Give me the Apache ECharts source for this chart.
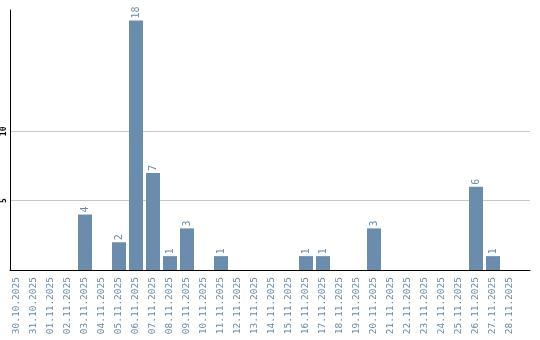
<!DOCTYPE html>
<html>
<head>
<meta charset="utf-8">
<script src="https://cdn.jsdelivr.net/npm/echarts@6/dist/echarts.min.js"></script>
<style>html,body{margin:0;padding:0;background:#fff;}#c{width:540px;height:340px;}</style>
</head>
<body>
<div id="c"></div>
<script>
const categories = ['30.10.2025','31.10.2025','01.11.2025','02.11.2025','03.11.2025','04.11.2025','05.11.2025','06.11.2025','07.11.2025','08.11.2025','09.11.2025','10.11.2025','11.11.2025','12.11.2025','13.11.2025','14.11.2025','15.11.2025','16.11.2025','17.11.2025','18.11.2025','19.11.2025','20.11.2025','21.11.2025','22.11.2025','23.11.2025','24.11.2025','25.11.2025','26.11.2025','27.11.2025','28.11.2025'];
const values = [0,0,0,0,4,0,2,18,7,1,3,0,1,0,0,0,0,1,1,0,0,3,0,0,0,0,0,6,1,0];
const yTickLabels = [5, 10];

const chart = echarts.init(document.getElementById('c'), null, {renderer:'canvas'});
const barColor = '#6a8cad';
const yMax = 18.75;
chart.setOption({
  animation: false,
  grid: [
    {left: 8.5, width: 510, top: 10, bottom: 70, containLabel: false},
    {left: 10, right: 10, top: 10, bottom: 70, containLabel: false}
  ],
  xAxis: [
    {
      type: 'category', gridIndex: 0, data: categories,
      axisLine: {show: false},
      axisTick: {show: false},
      axisLabel: {rotate: 90, interval: 0, margin: 7, color: '#6a8aa8', fontFamily: 'DejaVu Sans Mono', fontSize: 9.5}
    },
    {
      type: 'value', gridIndex: 1, min: 0, max: 1,
      axisLine: {show: true, onZero: false, lineStyle: {color: '#000', width: 1}},
      axisTick: {show: false}, axisLabel: {show: false}, splitLine: {show: false}
    }
  ],
  yAxis: [
    {
      type: 'value', gridIndex: 0, min: 0, max: yMax, show: false
    },
    {
      type: 'value', gridIndex: 1, min: 0, max: yMax, interval: 5,
      axisLine: {show: true, lineStyle: {color: '#000', width: 1}},
      axisTick: {show: false},
      axisLabel: {
        rotate: 90, margin: 2, color: '#000', fontFamily: 'DejaVu Sans Mono', fontSize: 8, fontWeight: 'bold',
        showMaxLabel: false,
        formatter: v => yTickLabels.indexOf(v) >= 0 ? String(v) : ''
      },
      splitLine: {show: true, lineStyle: {color: ['rgba(0,0,0,0)', '#c8c8c8', '#c8c8c8', 'rgba(0,0,0,0)', 'rgba(0,0,0,0)'], width: 1}}
    }
  ],
  series: [{
    type: 'bar', xAxisIndex: 0, yAxisIndex: 0,
    data: values.map(v => v === 0 ? null : v),
    barWidth: 14,
    itemStyle: {color: barColor},
    label: {
      show: true, position: 'top', rotate: 90, align: 'left', verticalAlign: 'middle', distance: 2,
      color: '#6a8aa8', fontFamily: 'DejaVu Sans Mono', fontSize: 10
    }
  }]
});
</script>
</body>
</html>
